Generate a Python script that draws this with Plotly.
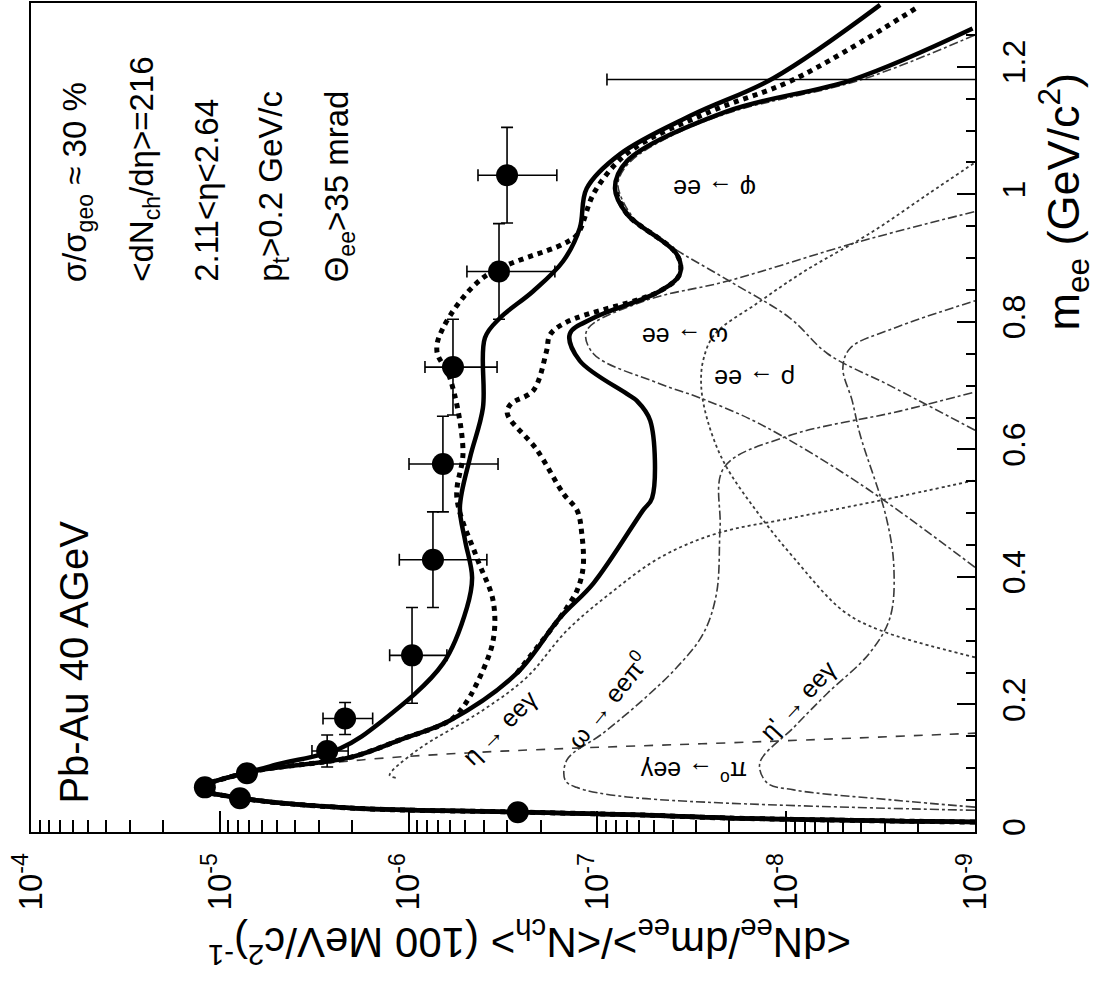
import plotly.graph_objects as go

# ---------------- data points (CERES Pb-Au 40 AGeV) ----------------
mass = [0.031, 0.053, 0.070, 0.092, 0.127, 0.178, 0.277, 0.427, 0.577, 0.729, 0.879, 1.030, 1.180]
dndm = [2.64e-7, 7.82e-6, 1.20e-5, 7.18e-6, 2.70e-6, 2.17e-6, 9.59e-7, 7.43e-7, 6.58e-7, 5.82e-7, 3.32e-7, 3.01e-7, 5.0e-10]
dndm_hi = [2.8e-7, 8.2e-6, 1.26e-5, 7.5e-6, 3.25e-6, 2.84e-6, 1.26e-6, 1.12e-6, 9.95e-7, 8.19e-7, 4.91e-7, 4.29e-7, 8.9e-8]
dndm_lo = [2.5e-7, 7.4e-6, 1.14e-5, 6.9e-6, 2.09e-6, 1.55e-6, 6.27e-7, 3.85e-7, 3.36e-7, 3.40e-7, 1.68e-7, 1.64e-7, 1.0e-11]
mass_half = [0.01, 0.01, 0.01, 0.01, 0.025, 0.025, 0.075, 0.075, 0.075, 0.075, 0.075, 0.075, 0.075]

# ---------------- thick curves ----------------
low_m = [0.0155, 0.0219, 0.0266, 0.0313, 0.0376, 0.0532, 0.068]
low_v = [1.0e-9, 2.06e-8, 5.74e-8, 2.67e-7, 2.04e-6, 7.82e-6, 1.27e-5]

cock_m = low_m + [0.094, 0.117, 0.145, 0.175, 0.249, 0.336, 0.39, 0.504, 0.524, 0.645, 0.676, 0.687,
                  0.739, 0.781, 0.806, 0.848, 0.875, 0.906, 0.969, 1.009, 1.052, 1.13, 1.18, 1.26]
cock_v = low_v + [6.92e-6, 2.04e-6, 1.1e-6, 6.04e-7, 2.67e-7, 1.58e-7, 1.05e-7, 5.75e-8, 5.13e-8, 5.25e-8, 6.17e-8, 6.97e-8,
                  1.24e-7, 1.40e-7, 1.05e-7, 4.68e-8, 3.66e-8, 3.80e-8, 6.97e-8, 8.07e-8, 6.97e-8, 2.06e-8, 4.43e-9, 1.03e-9]

broad_m = low_m + [0.103, 0.131, 0.175, 0.264, 0.352, 0.399, 0.457, 0.509, 0.587, 0.665, 0.775, 0.806,
                   0.848, 0.895, 0.947, 1.009, 1.063, 1.125, 1.182, 1.297]
broad_v = low_v + [5.42e-6, 2.31e-6, 1.37e-6, 6.58e-7, 4.91e-7, 4.61e-7, 5.02e-7, 5.35e-7, 4.73e-7, 4.04e-7, 3.94e-7, 3.28e-7,
                   2.19e-7, 1.52e-7, 1.24e-7, 1.14e-7, 7.59e-8, 3.12e-8, 1.17e-8, 3.18e-9]

drop1_m = low_m + [0.094, 0.117, 0.145, 0.175, 0.196, 0.233, 0.300, 0.363, 0.430, 0.524, 0.598, 0.712, 0.754,
                   0.79, 0.869, 0.922, 0.937, 1.005, 1.067, 1.13, 1.18, 1.294]
drop1_v = low_v + [6.92e-6, 2.04e-6, 1.1e-6, 6.04e-7, 5.15e-7, 4.35e-7, 3.57e-7, 3.57e-7, 4.35e-7, 5.55e-7, 5.15e-7, 6.04e-7, 7.08e-7,
                   6.58e-7, 4.04e-7, 1.52e-7, 1.28e-7, 1.03e-7, 6.76e-8, 2.51e-8, 9.12e-9, 2.0e-9]

drop2_m = [0.249, 0.336, 0.352, 0.379, 0.415, 0.468, 0.504, 0.53, 0.60, 0.656, 0.671, 0.692, 0.754, 0.78, 0.80,
           0.848, 0.875, 0.906, 0.969, 1.009]
drop2_v = [2.67e-7, 1.58e-7, 1.45e-7, 1.28e-7, 1.19e-7, 1.21e-7, 1.28e-7, 1.51e-7, 2.1e-7, 3.0e-7, 2.88e-7, 2.19e-7, 1.86e-7, 1.78e-7, 1.45e-7,
           4.68e-8, 3.66e-8, 3.80e-8, 6.97e-8, 8.07e-8]

# ---------------- cocktail components (thin) ----------------
pi0_m = [0.0155, 0.0219, 0.0266, 0.0313, 0.0376, 0.0532, 0.068, 0.094, 0.113, 0.124, 0.131, 0.142, 0.155]
pi0_v = [1.0e-9, 2.0e-8, 5.7e-8, 2.7e-7, 2.0e-6, 7.8e-6, 1.26e-5, 6.5e-6, 1.78e-6, 4.9e-7, 1.45e-7, 1.26e-8, 1.0e-9]

eta_m = [0.085, 0.089, 0.128, 0.191, 0.243, 0.316, 0.374, 0.43, 0.468, 0.493, 0.52, 0.551]
eta_v = [1.17e-6, 1.26e-6, 9.04e-7, 4.04e-7, 2.36e-7, 1.45e-7, 8.57e-8, 4.68e-8, 2.34e-8, 9.12e-9, 3.16e-9, 1.02e-9]

omd_m = [0.034, 0.055, 0.07, 0.081, 0.113, 0.155, 0.207, 0.258, 0.311, 0.374, 0.477, 0.571, 0.62, 0.66, 0.69]
omd_v = [1.0e-9, 6.97e-8, 1.29e-7, 1.48e-7, 1.45e-7, 9.33e-8, 5.75e-8, 3.80e-8, 2.75e-8, 2.34e-8, 2.24e-8, 2.14e-8, 1.0e-8, 2.5e-9, 1.0e-9]

etap_m = [0.039, 0.05, 0.066, 0.077, 0.108, 0.164, 0.218, 0.28, 0.336, 0.415, 0.493, 0.624, 0.676, 0.728, 0.759, 0.79, 0.833]
etap_v = [1.0e-9, 2.69e-9, 9.12e-9, 1.26e-8, 1.38e-8, 9.12e-9, 6.03e-9, 3.63e-9, 2.82e-9, 2.69e-9, 2.95e-9, 4.07e-9, 4.47e-9, 5.01e-9, 4.57e-9, 2.69e-9, 1.0e-9]

rho_m = [0.274, 0.316, 0.347, 0.43, 0.5, 0.58, 0.649, 0.70, 0.74, 0.78, 0.83, 0.88, 0.94, 1.0, 1.05]
rho_v = [1.0e-9, 3.16e-9, 5.01e-9, 9.12e-9, 1.41e-8, 2.14e-8, 2.63e-8, 2.82e-8, 2.75e-8, 2.40e-8, 1.41e-8, 7.94e-9, 3.55e-9, 1.78e-9, 1.0e-9]

omg_m = [0.415, 0.546, 0.64, 0.681, 0.703, 0.75, 0.786, 0.833, 0.864, 0.926, 0.973]
omg_v = [1.0e-9, 4.07e-9, 1.38e-8, 2.88e-8, 4.68e-8, 1.05e-7, 1.14e-7, 5.6e-8, 2.04e-8, 4.07e-9, 1.0e-9]

phi_m = [0.63, 0.70, 0.75, 0.806, 0.864, 0.92, 0.96, 1.0, 1.02, 1.05, 1.09, 1.13, 1.18, 1.25]
phi_v = [1.0e-9, 2.82e-9, 6.03e-9, 9.55e-9, 2.0e-8, 4.17e-8, 6.31e-8, 7.59e-8, 7.76e-8, 6.76e-8, 4.17e-8, 1.91e-8, 3.98e-9, 1.0e-9]

dec_vals = [1e-4, 1e-5, 1e-6, 1e-7, 1e-8, 1e-9]
dec_text = ["10<sup>-4</sup>", "10<sup>-5</sup>", "10<sup>-6</sup>", "10<sup>-7</sup>", "10<sup>-8</sup>", "10<sup>-9</sup>"]
m_ticks = [0, 0.2, 0.4, 0.6, 0.8, 1.0, 1.2]
m_text = ["0", "0.2", "0.4", "0.6", "0.8", "1", "1.2"]

FONT = "Liberation Sans, Arial, Helvetica, sans-serif"
W, H = 1098, 994
L_PX, R_PX, T_PX, B_PX = 31, 975, 1, 832

fig = go.Figure()


def add_line(m, v, dash, width, color="black", shape="spline"):
    fig.add_trace(go.Scatter(x=v, y=m, mode="lines",
                             line=dict(color=color, width=width, dash=dash, shape=shape),
                             hoverinfo="skip", showlegend=False))


thin = "#3a3a3a"
add_line(pi0_m, pi0_v, "dash", 1.6, thin)
add_line(eta_m, eta_v, "dot", 1.8, thin)
add_line(omd_m, omd_v, "dashdot", 1.6, thin)
add_line(etap_m, etap_v, "dashdot", 1.6, thin)
add_line(rho_m, rho_v, "dot", 1.8, thin)
add_line(omg_m, omg_v, "dashdot", 1.6, thin)
add_line(phi_m, phi_v, "dashdot", 1.6, thin)

add_line(cock_m, cock_v, "solid", 4.5)
add_line(broad_m, broad_v, "solid", 4.5)
add_line(drop1_m, drop1_v, "5px,5px", 5)
add_line(drop2_m, drop2_v, "5px,5px", 5)

err_plus = [h - v for h, v in zip(dndm_hi, dndm)]
err_minus = [v - l for v, l in zip(dndm, dndm_lo)]
fig.add_trace(go.Scatter(
    x=dndm, y=mass, mode="markers",
    marker=dict(symbol="circle", size=22, color="black"),
    error_x=dict(type="data", symmetric=False, array=err_plus, arrayminus=err_minus,
                 color="black", thickness=1.6, width=6),
    error_y=dict(type="data", array=mass_half, color="black", thickness=1.6, width=6),
    hoverinfo="skip", showlegend=False))


def px(x):
    return (x - L_PX) / (R_PX - L_PX)


def py(y):
    return (B_PX - y) / (B_PX - T_PX)


ann = []


def text(t, x, y, angle, size, xa="center", ya="middle"):
    ann.append(dict(text=t, x=px(x), y=py(y), xref="paper", yref="paper", showarrow=False,
                    textangle=angle, xanchor=xa, yanchor=ya,
                    font=dict(family=FONT, size=size, color="black")))


text("Pb-Au 40 AGeV", 74, 806, -90, 40, ya="bottom")
text("σ/σ<sub>geo</sub> ≈ 30 %", 77, 283, -90, 33, ya="bottom")
text("&lt;dN<sub>ch</sub>/dη&gt;=216", 144, 283, -90, 33, ya="bottom")
text("2.11&lt;η&lt;2.64", 207, 283, -90, 33, ya="bottom")
text("p<sub>t</sub>&gt;0.2 GeV/c", 273, 283, -90, 33, ya="bottom")
text("Θ<sub>ee</sub>&gt;35 mrad", 339, 283, -90, 33, ya="bottom")

text("π<sup>o</sup> → eeγ", 694, 772, 180, 25)
text("ω → ee", 685, 336, 180, 25)
text("ρ → ee", 755, 378, 180, 25)
text("φ → ee", 715, 188, 180, 25)
text("η → eeγ", 500, 727, -45, 25)
text("ω → eeπ<sup>0</sup>", 607, 700, -51, 25)
text("η' → eeγ", 798, 700, -47, 25)

text("&lt;dN<sub>ee</sub>/dm<sub>ee</sub>&gt;/&lt;N<sub>ch</sub>&gt; (100 MeV/c<sup>2</sup>)<sup>-1</sup>",
     530, 943, 180, 42)
text("m<sub>ee</sub> (GeV/c<sup>2</sup>)", 1063, 200, -90, 45)

fig.update_layout(
    width=W, height=H,
    margin=dict(l=L_PX, r=W - R_PX, t=T_PX, b=H - B_PX, pad=0),
    paper_bgcolor="white", plot_bgcolor="white",
    annotations=ann, showlegend=False,
    font=dict(family=FONT, color="black"),
)
fig.update_xaxes(
    type="log", range=[-4, -9], showgrid=False, zeroline=False,
    showline=True, linecolor="black", linewidth=2, mirror=True,
    ticks="inside", ticklen=21, tickwidth=1.6, tickcolor="black",
    tickmode="array", tickvals=dec_vals, ticktext=dec_text, tickangle=-90,
    tickfont=dict(family=FONT, size=33, color="black"), ticklabelstandoff=6,
    minor=dict(ticks="inside", ticklen=12, tickwidth=1.6, tickcolor="black",
               tickmode="array",
               tickvals=[k * 10.0 ** e for e in range(-9, -4) for k in range(2, 10)]),
)
fig.update_yaxes(
    range=[0, 1.3], side="right", showgrid=False, zeroline=False,
    showline=True, linecolor="black", linewidth=2, mirror=True,
    ticks="inside", ticklen=18, tickwidth=1.6, tickcolor="black",
    tickmode="array", tickvals=m_ticks, ticktext=m_text, tickangle=-90,
    tickfont=dict(family=FONT, size=32, color="black"), ticklabelstandoff=10,
    minor=dict(ticks="inside", ticklen=9, tickwidth=1.6, tickcolor="black", dtick=0.05, tick0=0),
)

fig.write_html("out.html")
